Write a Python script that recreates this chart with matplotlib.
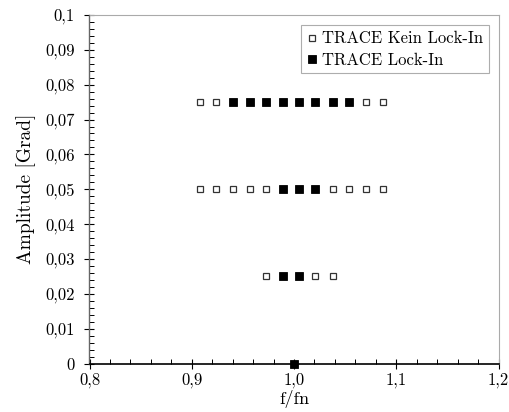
import matplotlib
matplotlib.use("Agg")
import matplotlib.pyplot as plt
from matplotlib.ticker import MultipleLocator, FixedLocator

plt.rcParams['font.family'] = ['cmr10', 'DejaVu Serif']
plt.rcParams['axes.unicode_minus'] = False

# TRACE, no lock-in
kein_x = [0.908, 0.924, 1.070, 1.087,
          0.908, 0.924, 0.940, 0.957, 0.973, 1.038, 1.054, 1.070, 1.087,
          0.973, 1.021, 1.038]
kein_y = [0.075, 0.075, 0.075, 0.075,
          0.05, 0.05, 0.05, 0.05, 0.05, 0.05, 0.05, 0.05, 0.05,
          0.025, 0.025, 0.025]

# TRACE, lock-in
lock_x = [0.940, 0.957, 0.973, 0.989, 1.005, 1.021, 1.038, 1.054,
          0.989, 1.005, 1.021,
          0.989, 1.005,
          1.0]
lock_y = [0.075] * 8 + [0.05] * 3 + [0.025] * 2 + [0.0]

x_ticks = [0.8, 0.9, 1.0, 1.1, 1.2]
x_labels = ['0,8', '0,9', '1,0', '1,1', '1,2']
y_ticks = [0, 0.01, 0.02, 0.03, 0.04, 0.05, 0.06, 0.07, 0.08, 0.09, 0.1]
y_labels = ['0', '0,01', '0,02', '0,03', '0,04', '0,05', '0,06', '0,07', '0,08', '0,09', '0,1']

fig = plt.figure(figsize=(5.10, 4.12), dpi=100)
ax = fig.add_axes([89.5 / 510, 1 - 363.5 / 412, (498.5 - 89.5) / 510, (363.5 - 15) / 412])

ax.plot(kein_x, kein_y, linestyle='none', marker='s', markersize=4.6,
        markerfacecolor='white', markeredgecolor='#333333', markeredgewidth=0.9,
        label='TRACE Kein Lock-In', clip_on=False, zorder=3)
ax.plot(lock_x, lock_y, linestyle='none', marker='s', markersize=6.0,
        markerfacecolor='black', markeredgecolor='black', markeredgewidth=0.6,
        label='TRACE Lock-In', clip_on=False, zorder=4)

ax.set_xlim(0.8, 1.2)
ax.set_ylim(0, 0.1)
ax.xaxis.set_major_locator(FixedLocator(x_ticks))
ax.set_xticklabels(x_labels)
ax.yaxis.set_major_locator(FixedLocator(y_ticks))
ax.set_yticklabels(y_labels)
ax.xaxis.set_minor_locator(MultipleLocator(0.02))
ax.yaxis.set_minor_locator(MultipleLocator(0.002))

ax.tick_params(axis='both', which='major', direction='inout', length=7, width=0.8,
               labelsize=12, colors='black')
ax.tick_params(axis='x', which='major', pad=3)
ax.tick_params(axis='y', which='major', pad=7)
ax.tick_params(axis='both', which='minor', direction='in', length=3.5, width=0.7)
ax.tick_params(top=False, right=False, which='both')

for side in ('top', 'right'):
    ax.spines[side].set_color('#aaaaaa')
    ax.spines[side].set_linewidth(0.8)
ax.spines['left'].set_color('#666666')
ax.spines['left'].set_linewidth(1.0)
ax.spines['bottom'].set_color('black')
ax.spines['bottom'].set_linewidth(1.2)

ax.set_xlabel('f/fn', fontsize=13, labelpad=1.5)
ax.set_ylabel('Amplitude [Grad]', fontsize=14, labelpad=7)

leg = ax.legend(loc='upper right', bbox_to_anchor=(0.985, 0.98), fontsize=12,
                frameon=True, fancybox=False, handlelength=0.6, handletextpad=0.3,
                borderpad=0.35, labelspacing=0.35, borderaxespad=0.2)
leg.get_frame().set_edgecolor('#999999')
leg.get_frame().set_linewidth(0.8)

fig.savefig('out.png', dpi=100)
